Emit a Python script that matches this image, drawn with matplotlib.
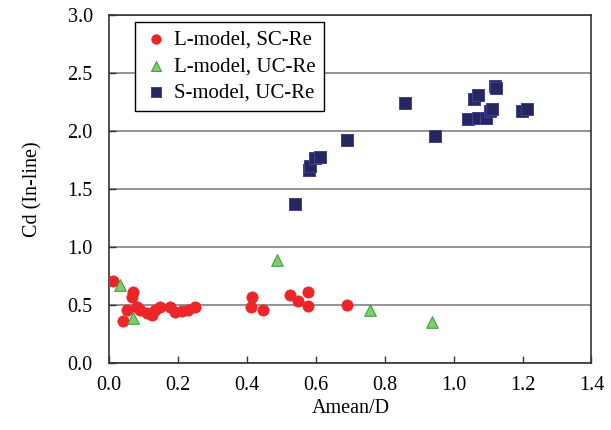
import matplotlib
matplotlib.use("Agg")
import matplotlib.pyplot as plt

plt.rcParams['font.family'] = ['Liberation Serif', 'DejaVu Serif']

# L-model, SC-Re
l_sc_x = [0.012, 0.070, 0.065, 0.041, 0.050, 0.080, 0.089, 0.109, 0.123, 0.133,
          0.147, 0.176, 0.191, 0.210, 0.229, 0.249, 0.413, 0.410, 0.445, 0.526,
          0.548, 0.577, 0.577, 0.691]
l_sc_y = [0.71, 0.61, 0.57, 0.365, 0.46, 0.485, 0.457, 0.434, 0.414, 0.46,
          0.48, 0.48, 0.44, 0.45, 0.46, 0.485, 0.57, 0.485, 0.457, 0.586,
          0.537, 0.615, 0.494, 0.50]

# L-model, UC-Re
l_uc_x = [0.031, 0.070, 0.488, 0.757, 0.936]
l_uc_y = [0.67, 0.39, 0.89, 0.46, 0.357]

# S-model, UC-Re
s_uc_x = [0.539, 0.580, 0.584, 0.597, 0.611, 0.689, 0.858, 0.947, 1.042, 1.058,
          1.071, 1.071, 1.095, 1.105, 1.110, 1.119, 1.124, 1.197, 1.213]
s_uc_y = [1.37, 1.66, 1.70, 1.77, 1.78, 1.92, 2.24, 1.96, 2.10, 2.28,
          2.31, 2.11, 2.11, 2.17, 2.19, 2.39, 2.37, 2.17, 2.19]

x_ticks = [0.0, 0.2, 0.4, 0.6, 0.8, 1.0, 1.2, 1.4]
y_ticks = [0.0, 0.5, 1.0, 1.5, 2.0, 2.5, 3.0]

fig = plt.figure(figsize=(6.11, 4.30), dpi=100)
ax = fig.add_axes([109.3 / 611, 1 - 363 / 430, (591.5 - 109.3) / 611, (363 - 15) / 430])

ax.scatter(l_sc_x, l_sc_y, s=66, marker='o', color='#EC2528', edgecolors='#EC2528',
           linewidths=0.5, label='L-model, SC-Re', zorder=3)
ax.scatter(l_uc_x, l_uc_y, s=70, marker='^', color='#86C96A', edgecolors='#3FA548',
           linewidths=0.8, label='L-model, UC-Re', zorder=3)
ax.scatter(s_uc_x, s_uc_y, s=64, marker='s', color='#25275E', edgecolors='#3E4391',
           linewidths=0.7, label='S-model, UC-Re', zorder=3)

ax.set_xlim(0, 1.4)
ax.set_ylim(0, 3.0)
ax.set_xticks(x_ticks)
ax.set_yticks(y_ticks)
ax.set_xticklabels([f"{v:.1f}" for v in x_ticks])
ax.set_yticklabels([f"{v:.1f}" for v in y_ticks])
ax.yaxis.grid(True, color='#808080', linewidth=1.2)
ax.set_axisbelow(True)
ax.tick_params(direction='in', length=5, labelsize=14.5, width=1, color='#333333')
ax.tick_params(axis='x', pad=9)
ax.tick_params(axis='y', pad=12)

for sp in ax.spines.values():
    sp.set_color('#333333')
    sp.set_linewidth(1.2)

ax.set_xlabel('Amean/D', fontsize=14.5, labelpad=3)
ax.set_ylabel('Cd (In-line)', fontsize=14.5, labelpad=18)

leg = ax.legend(loc='upper left', bbox_to_anchor=(0.053, 0.98), fontsize=15,
                frameon=True, fancybox=False, edgecolor='black', framealpha=1,
                handletextpad=0.3, borderpad=0.4, labelspacing=0.32, markerscale=0.85,
                handlelength=1.2, borderaxespad=0)
leg.get_frame().set_linewidth(1.0)

fig.savefig('out.png', dpi=100)
